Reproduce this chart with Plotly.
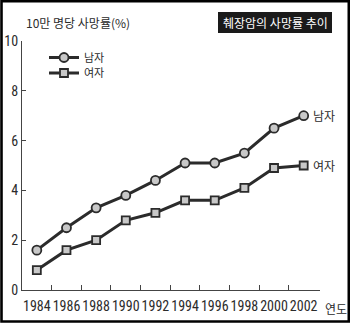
import plotly.graph_objects as go

# Pancreatic cancer death rate per 100k, by year
years = [1984, 1986, 1988, 1990, 1992, 1994, 1996, 1998, 2000, 2002]
male = [1.6, 2.5, 3.3, 3.8, 4.4, 5.1, 5.1, 5.5, 6.5, 7.0]
female = [0.8, 1.6, 2.0, 2.8, 3.1, 3.6, 3.6, 4.1, 4.9, 5.0]
series_names = ["남자", "여자"]
y_ticks = [0, 2, 4, 6, 8, 10]
minor_x = [1985, 1987, 1989, 1991, 1993, 1995, 1997, 1999, 2001]

W, H = 350, 323
ML, MR, MT, MB = 22, 30, 41, 33
PW, PH = W - ML - MR, H - MT - MB

NUM_FONT = "Liberation Sans Narrow, Roboto Condensed, Liberation Sans, Arial"
KR_FONT = "Noto Sans CJK KR, Noto Sans CJK SC, sans-serif"
INK = "#2b2b2b"
XRANGE = [1983, 2003.1]

def px_x(p):
    return (p - ML) / PW

def px_y(p):
    return (H - MB - p) / PH

fig = go.Figure()
fig.add_trace(go.Scatter(
    x=years, y=male, name=series_names[0], mode="lines+markers",
    legend="legend",
    line=dict(color=INK, width=3),
    marker=dict(symbol="circle", size=9, color="#c8c8c8",
                line=dict(color=INK, width=1.8)),
))
fig.add_trace(go.Scatter(
    x=years, y=female, name=series_names[1], mode="lines+markers",
    legend="legend2",
    line=dict(color=INK, width=3),
    marker=dict(symbol="square", size=8, color="#c8c8c8",
                line=dict(color=INK, width=1.8)),
))
# transparent copy on the overlaid axis that carries the year labels
fig.add_trace(go.Scatter(x=years, y=female, xaxis="x2", mode="markers",
                         marker=dict(opacity=0), showlegend=False,
                         hoverinfo="skip"))

annotations = [
    dict(x=years[-1], y=male[-1], text=series_names[0], showarrow=False,
         xanchor="left", yanchor="middle", xshift=7,
         font=dict(family=KR_FONT, size=12, color=INK)),
    dict(x=years[-1], y=female[-1], text=series_names[1], showarrow=False,
         xanchor="left", yanchor="middle", xshift=7,
         font=dict(family=KR_FONT, size=12, color=INK)),
    dict(xref="paper", yref="paper", x=px_x(24), y=px_y(23),
         text="10만 명당 사망률(%)", showarrow=False,
         xanchor="left", yanchor="middle",
         font=dict(family=KR_FONT, size=12, color=INK)),
    dict(xref="paper", yref="paper", x=px_x(275), y=px_y(22.5),
         text="췌장암의 사망률 추이", showarrow=False,
         xanchor="center", yanchor="middle",
         font=dict(family=KR_FONT, size=12, color="white")),
    dict(xref="paper", yref="paper", x=px_x(336), y=px_y(308),
         text="연도", showarrow=False,
         xanchor="center", yanchor="middle",
         font=dict(family=KR_FONT, size=12, color=INK)),
]

shapes = [
    # title box
    dict(type="rect", xref="paper", yref="paper",
         x0=px_x(218), x1=px_x(332), y0=px_y(33), y1=px_y(12),
         fillcolor="#1a1a1a", line=dict(width=0), layer="below"),
    # outer frame
    dict(type="rect", xref="paper", yref="paper",
         x0=px_x(1.5), x1=px_x(W - 1.2), y0=px_y(H - 1.5), y1=px_y(1.2),
         line=dict(color="black", width=2.6)),
]

legend_common = dict(xanchor="left", yanchor="top", bgcolor="rgba(0,0,0,0)",
                     font=dict(family=KR_FONT, size=11, color=INK))

fig.update_layout(
    width=W, height=H,
    margin=dict(l=ML, r=MR, t=MT, b=MB, autoexpand=False),
    paper_bgcolor="white", plot_bgcolor="white",
    showlegend=True,
    legend=dict(x=px_x(44), y=px_y(43), **legend_common),
    legend2=dict(x=px_x(44), y=px_y(58.5), **legend_common),
    annotations=annotations,
    shapes=shapes,
    # main axis: odd-year tick marks between the labels
    xaxis=dict(
        range=XRANGE, tickmode="array", tickvals=minor_x,
        ticktext=[""] * len(minor_x), ticks="inside", ticklen=5,
        tickcolor="#444", automargin=False,
        showgrid=False, zeroline=False,
        showline=True, linecolor="#444", linewidth=1,
    ),
    # overlaid axis: year labels under each data point
    xaxis2=dict(
        range=XRANGE, overlaying="x", anchor="y", side="bottom",
        tickmode="array", tickvals=years, ticktext=[str(y) for y in years],
        ticks="", tickangle=0, ticklabelstandoff=6,
        tickfont=dict(family=NUM_FONT, size=14, color=INK),
        showgrid=False, zeroline=False, showline=False, automargin=False,
    ),
    yaxis=dict(
        range=[0, 10], tickmode="array", tickvals=y_ticks,
        ticks="inside", ticklen=4, tickcolor="#444", automargin=False,
        showgrid=False, zeroline=False,
        showline=True, linecolor="#444", linewidth=1,
        tickfont=dict(family=NUM_FONT, size=14, color=INK),
    ),
)

fig.write_html("out.html")
